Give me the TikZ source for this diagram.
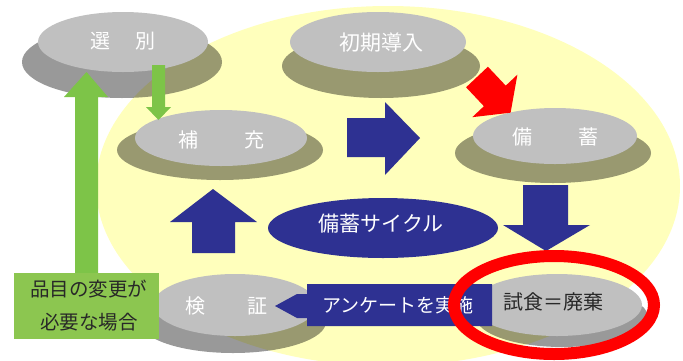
\documentclass[tikz,border=0pt]{standalone}
\usepackage{fontspec}
\setmainfont{Noto Sans CJK JP}
\usetikzlibrary{shapes.geometric}
\definecolor{bgyellow}{RGB}{255,255,188}
\definecolor{disk}{RGB}{192,192,192}
\definecolor{navy}{RGB}{46,49,146}
\definecolor{garrow}{RGB}{125,196,72}
\definecolor{gbox}{RGB}{140,198,80}
\definecolor{darktext}{RGB}{40,40,40}
\tikzset{
  shadowdisk/.style={ellipse, inner sep=0pt, fill=black, fill opacity=0.4, draw=none},
  topdisk/.style={ellipse, inner sep=0pt, fill=disk, draw=none},
  disklabel/.style={text=white, font=\fontsize{20}{24}\selectfont, inner sep=0pt},
  bluearrow/.style={fill=navy, draw=none},
  greenarrow/.style={fill=garrow, draw=none}
}
\begin{document}
\begin{tikzpicture}[x=1pt,y=-1pt]
\useasboundingbox (0,0) rectangle (683,360);
% background
\fill[bgyellow] (388,186) ellipse [x radius=292, y radius=180];
% disks
\node[shadowdisk, minimum width=200pt, minimum height=72pt] (selS) at (122,62) {};
\node[topdisk, minimum width=170pt, minimum height=60pt] (sel) at (123,42) {};
\node[shadowdisk, minimum width=198pt, minimum height=64pt] (initS) at (381,66) {};
\node[topdisk, minimum width=176pt, minimum height=60pt] (init) at (378,42) {};
\node[shadowdisk, minimum width=206pt, minimum height=60pt] (supS) at (220,150) {};
\node[topdisk, minimum width=172pt, minimum height=56pt] (sup) at (221,138) {};
\node[shadowdisk, minimum width=196pt, minimum height=60pt] (stoS) at (553,153) {};
\node[topdisk, minimum width=164pt, minimum height=56pt] (sto) at (555,136) {};
\node[shadowdisk, minimum width=186pt, minimum height=62pt] (verS) at (233,322) {};
\node[topdisk, minimum width=164pt, minimum height=62pt] (ver) at (235,305) {};
\node[shadowdisk, minimum width=172pt, minimum height=60pt] (tasS) at (562,317) {};
\node[topdisk, minimum width=170pt, minimum height=62pt] (tas) at (557,305) {};
% disk labels
\node[disklabel] (selT) at (122.5,41) {選\hspace{25pt}別};
\node[disklabel, font=\fontsize{21}{24}\selectfont] (initT) at (381,43) {初期導入};
\node[disklabel] (supT) at (221,140) {補\hspace{46pt}充};
\node[disklabel] (stoT) at (555,137) {備\hspace{46pt}蓄};
\node[disklabel] (verT) at (226,306) {検\hspace{42pt}証};
\node[disklabel, text=darktext] (tasT) at (553,302) {試食＝廃棄};
% green arrows
\fill[greenarrow] (75,273) -- (75,97) -- (64,97) -- (86.5,72) -- (108,97) -- (98,97) -- (98,273) -- cycle;
\fill[greenarrow] (152,65) -- (165,65) -- (165,107) -- (171,107) -- (158.5,120) -- (146,107) -- (152,107) -- cycle;
% blue arrows
\fill[bluearrow] (347,118) -- (385,118) -- (385,102) -- (420,138) -- (385,175) -- (385,157) -- (347,157) -- cycle;
\fill[bluearrow] (523,185) -- (568,185) -- (568,225) -- (590,225) -- (546,251) -- (503,225) -- (523,225) -- cycle;
\fill[bluearrow] (192,253) -- (192,222) -- (170,222) -- (213,189) -- (257,222) -- (235,222) -- (235,253) -- cycle;
% red arrow
\begin{scope}[shift={(477,77)}, rotate=-46.7]
\fill[red] (0,-15) -- (26,-15) -- (26,-31) -- (49,0) -- (26,31) -- (26,15) -- (0,15) -- cycle;
\end{scope}
% cycle label
\node[ellipse, fill=navy, inner sep=0pt, minimum width=230pt, minimum height=60pt] (cyc) at (383,228) {};
\node[text=white, font=\fontsize{21}{24}\selectfont, inner sep=0pt] (cycT) at (381,224) {備蓄サイクル};
% green condition box
\node[fill=gbox, minimum width=145pt, minimum height=66pt, inner sep=0pt] (cond) at (86.5,306) {};
\node[text=darktext, font=\fontsize{19.5}{33}\selectfont, align=center, inner sep=0pt] (condT) at (89,305.5) {品目の変更が\\必要な場合};
% survey arrow
\fill[navy] (307,284) -- (492,284) -- (492,326) -- (307,326) -- (307,318) -- (297,318) -- (275,306) -- (297,294) -- (307,294) -- cycle;
\node[text=white, font=\fontsize{19}{22}\selectfont, inner sep=0pt] (survT) at (398,305) {アンケートを実施};
% red ring
\draw[red, line width=12pt] (554,305) ellipse [x radius=100, y radius=49];
\end{tikzpicture}
\end{document}
